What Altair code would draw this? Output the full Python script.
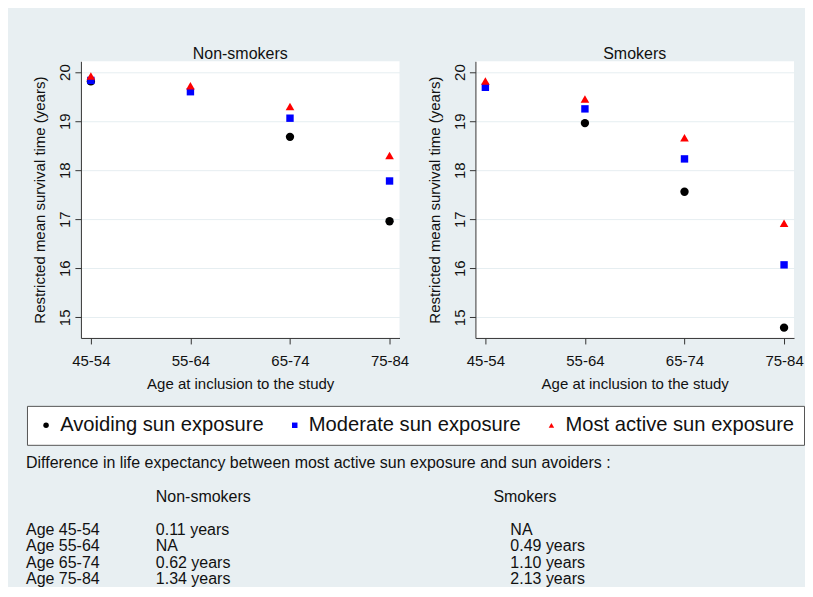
import altair as alt
import pandas as pd

FONT = "Liberation Sans"

ages = ["45-54", "55-64", "65-74", "75-84"]
groups = ["Avoiding sun exposure", "Moderate sun exposure", "Most active sun exposure"]
group_colors = ["#000000", "#0000ff", "#ff0000"]
group_shapes = ["circle", "square", "triangle-up"]
group_sizes = [70, 55, 75]

ns_avoid = [19.81, None, 18.68, 16.96]
ns_moderate = [19.83, 19.60, 19.06, 17.78]
ns_active = [19.92, 19.72, 19.30, 18.30]

sm_avoid = [None, 18.96, 17.56, 14.79]
sm_moderate = [19.69, 19.25, 18.23, 16.07]
sm_active = [19.82, 19.45, 18.66, 16.92]

y_ticks = [15, 16, 17, 18, 19, 20]

diff_title = "Difference in life expectancy between most active sun exposure and sun avoiders :"
col_heads = ["Non-smokers", "Smokers"]
row_labels = ["Age 45-54", "Age 55-64", "Age 65-74", "Age 75-84"]
diff_ns = ["0.11 years", "NA", "0.62 years", "1.34 years"]
diff_sm = ["NA", "0.49 years", "1.10 years", "2.13 years"]

legend = alt.Legend(
    title=None, orient="none", legendX=-54, legendY=345, direction="horizontal",
    labelFontSize=20.2, labelFont=FONT, labelColor="#111111", labelLimit=600,
    symbolSize=30, symbolStrokeWidth=0, fillColor="white", strokeColor="#555555",
    padding=9, columnPadding=20, labelOffset=4,
)


def panel(avoid, moderate, active, title):
    rows = []
    for g, vals in zip(groups, [avoid, moderate, active]):
        for a, v in zip(ages, vals):
            if v is not None:
                rows.append({"age": a, "group": g, "value": v})
    df = pd.DataFrame(rows)
    base = alt.Chart(df).encode(
        x=alt.X("age:N", sort=ages,
                scale=alt.Scale(type="point", padding=0.1, domain=ages),
                axis=alt.Axis(title="Age at inclusion to the study", labelAngle=0,
                              grid=False, labelPadding=10, titlePadding=8)),
        y=alt.Y("value:Q",
                scale=alt.Scale(domain=[14.58, 20.22], nice=False, zero=False),
                axis=alt.Axis(title="Restricted mean survival time (years)",
                              values=y_ticks, grid=True, labelAngle=-90,
                              labelAlign="center", labelBaseline="alphabetic",
                              labelPadding=5, titlePadding=10)),
        color=alt.Color("group:N", scale=alt.Scale(domain=groups, range=group_colors), legend=legend),
        shape=alt.Shape("group:N", scale=alt.Scale(domain=groups, range=group_shapes), legend=legend),
    )
    layers = [
        base.transform_filter(alt.datum.group == g).mark_point(filled=True, size=s, opacity=1)
        for g, s in zip(groups, group_sizes)
    ]
    return alt.layer(*layers, title=alt.Title(
        title, fontSize=16, font=FONT, fontWeight="normal", color="#111111",
        offset=-1, anchor="middle")).properties(
        width=319, height=277, view=alt.ViewBackground(fill="white", stroke=None))


left = panel(ns_avoid, ns_moderate, ns_active, "Non-smokers")
right = panel(sm_avoid, sm_moderate, sm_active, "Smokers")

# text table below the legend
trows = [{"text": diff_title, "col": 0, "row": 0}]
trows.append({"text": col_heads[0], "col": 1, "row": 1})
trows.append({"text": col_heads[1], "col": 2, "row": 1})
for i in range(4):
    trows.append({"text": row_labels[i], "col": 0, "row": 2 + i})
    trows.append({"text": diff_ns[i], "col": 1, "row": 2 + i})
    trows.append({"text": diff_sm[i], "col": 3, "row": 2 + i})
tdf = pd.DataFrame(trows)

table = alt.Chart(tdf).mark_text(
    align="left", baseline="middle", fontSize=16, font=FONT, color="#111111"
).encode(
    x=alt.X("col:Q", scale=alt.Scale(domain=[0, 1, 2, 3], range=[-55, 75, 413, 430]), axis=None),
    y=alt.Y("row:Q", scale=alt.Scale(domain=[0, 1, 2, 3, 4, 5], range=[13, 47, 80, 96.5, 113, 129]), axis=None),
    text="text:N",
).properties(width=714, height=134, view=alt.ViewBackground(fill=None, stroke=None))

top = alt.hconcat(left, right, spacing=76, bounds="flush")
chart = alt.vconcat(top, table, spacing=389, bounds="flush").properties(
    padding={"left": 18, "top": 38, "right": 0, "bottom": 0},
    background="#e8eff2",
).configure_view(stroke=None).configure_axis(
    domainColor="#333333", tickColor="#333333", labelColor="#111111", titleColor="#111111",
    labelFont=FONT, titleFont=FONT, labelFontSize=15, titleFontSize=15,
    titleFontWeight="normal", gridColor="#e6eef1", tickSize=6,
)

chart.save("out.html", embed_options={"renderer": "svg", "actions": False})
